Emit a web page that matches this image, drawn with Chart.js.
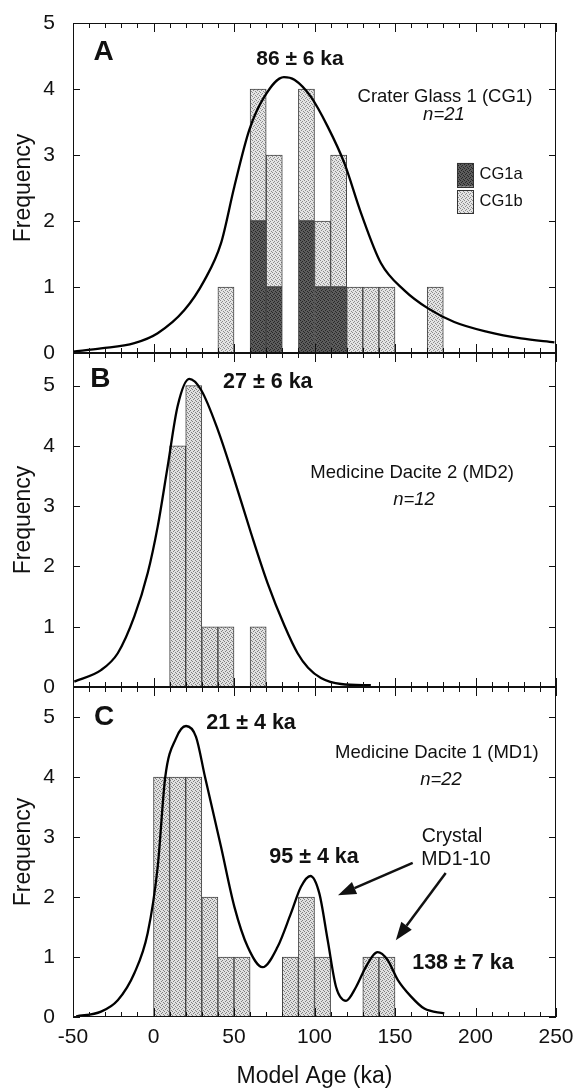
<!DOCTYPE html>
<html>
<head>
<meta charset="utf-8">
<script src="https://cdn.jsdelivr.net/npm/chart.js@4.4.0/dist/chart.umd.min.js"></script>
<style>
  body { margin: 0; background: #fff; }
  #wrap { position: relative; width: 582px; height: 1088px; overflow: hidden; }
  canvas { position: absolute; left: 0; }
</style>
</head>
<body>
<div id="wrap">
  <canvas id="panel-a" width="582" height="377" style="top:0px"></canvas>
  <canvas id="panel-b" width="582" height="382" style="top:329px"></canvas>
  <canvas id="panel-c" width="582" height="425" style="top:663px"></canvas>
</div>
<script>
const FONT = "'Liberation Sans', Arial, Helvetica, sans-serif";
const binWidth = 10;
const xTickLabels = [-50, 0, 50, 100, 150, 200, 250];

// panel A - Crater Glass 1 (bin left edges, ka)
const binsA = [40, 60, 70, 90, 100, 110, 120, 130, 140, 170];
const cg1a  = [0, 2, 1, 2, 1, 1, 0, 0, 0, 0];
const cg1b  = [1, 2, 2, 2, 1, 2, 1, 1, 1, 1];
const curveAx = [-50, -32.6, -11.9, 2.6, 19.2, 31.6, 41.9, 50.2, 59.5, 68.8, 81, 87.5, 97.8, 108.2, 118.5, 128.9, 141.3, 155.8, 170.3, 186.8, 207.5, 228.3, 249];
const curveAy = [0.02, 0.07, 0.15, 0.30, 0.65, 1.10, 1.66, 2.52, 3.38, 3.88, 4.18, 4.14, 3.88, 3.43, 2.88, 2.12, 1.36, 0.95, 0.68, 0.47, 0.32, 0.22, 0.16];

// panel B - Medicine Dacite 2
const binsB = [10, 20, 30, 40, 60];
const md2   = [4, 5, 1, 1, 1];
const curveBx = [-49.2, -32.6, -22.2, -11.9, -3.6, 2.6, 8.8, 15.0, 22.2, 29.5, 39.9, 50.2, 60.6, 70.9, 81.3, 89.5, 96, 104, 116.5, 135];
const curveBy = [0.09, 0.28, 0.56, 1.17, 1.89, 2.66, 3.66, 4.66, 5.11, 4.93, 4.27, 3.44, 2.55, 1.72, 1.02, 0.56, 0.32, 0.15, 0.05, 0.03];

// panel C - Medicine Dacite 1
const binsC = [0, 10, 20, 30, 40, 50, 80, 90, 100, 130, 140];
const md1   = [4, 4, 4, 2, 1, 1, 1, 2, 1, 1, 1];
const curveCx = [-48, -32.6, -22.2, -11.9, -3.6, 2.6, 7.3, 13.9, 20.2, 26.4, 32, 41.9, 50.2, 58.5, 67.8, 77.1, 85.4, 91.6, 97.4, 103, 108.2, 113.4, 119.6, 125.8, 132, 139.2, 145.4, 151.7, 160, 168.2, 180.6];
const curveCy = [0.01, 0.09, 0.28, 0.73, 1.40, 2.5, 4.0, 4.64, 4.85, 4.67, 4.0, 2.84, 1.84, 1.17, 0.83, 1.17, 1.73, 2.17, 2.35, 2.06, 1.28, 0.50, 0.27, 0.50, 0.84, 1.08, 0.95, 0.62, 0.34, 0.14, 0.06];

function stipple(canvas, base, dot) {
  const tile = document.createElement('canvas');
  tile.width = 4; tile.height = 4;
  const g = tile.getContext('2d');
  g.fillStyle = base; g.fillRect(0, 0, 4, 4);
  g.fillStyle = dot;
  [[0, 0], [2, 1], [1, 2], [3, 3]].forEach(([px, py]) => g.fillRect(px, py, 1, 1));
  return canvas.getContext('2d').createPattern(tile, 'repeat');
}

function barData(bins, counts) {
  return bins.map((b, i) => ({ x: b + binWidth / 2, y: counts[i] }));
}
function curveData(xs, ys) {
  return xs.map((v, i) => ({ x: v, y: ys[i] }));
}

const panelDecor = {
  id: 'panelDecor',
  afterDraw(chart, args, opts) {
    const { ctx, chartArea: a, scales: { x, y } } = chart;
    const seg = (x1, y1, x2, y2) => { ctx.beginPath(); ctx.moveTo(x1, y1); ctx.lineTo(x2, y2); ctx.stroke(); };
    ctx.save();
    ctx.strokeStyle = '#111';
    ctx.lineWidth = 1;
    ctx.strokeRect(a.left + 0.5, a.top + 0.5, a.width - 1, a.height - 1);
    for (let v = -50; v <= 250; v += 10) {
      const px = Math.round(x.getPixelForValue(v)) + 0.5;
      const len = v % 50 === 0 ? 9 : 5;
      seg(px, a.top, px, a.top + len);
      seg(px, a.bottom, px, a.bottom - len);
    }
    y.ticks.forEach(t => {
      const py = Math.round(y.getPixelForValue(t.value)) + 0.5;
      seg(a.left, py, a.left + 7, py);
      seg(a.right, py, a.right - 7, py);
    });

    (opts.boxes || []).forEach(b => {
      const x1 = x.getPixelForValue(b.x1), x2 = x.getPixelForValue(b.x2);
      const y1 = y.getPixelForValue(b.y1), y2 = y.getPixelForValue(b.y2);
      ctx.fillStyle = b.fill;
      ctx.fillRect(x1, y1, x2 - x1, y2 - y1);
      ctx.strokeStyle = '#333';
      ctx.strokeRect(Math.round(x1) + 0.5, Math.round(y1) + 0.5, Math.round(x2 - x1), Math.round(y2 - y1));
    });

    ctx.fillStyle = '#111';
    ctx.textBaseline = 'middle';
    (opts.texts || []).forEach(t => {
      ctx.font = t.font + ' ' + FONT;
      ctx.textAlign = t.align || 'center';
      ctx.fillText(t.text, x.getPixelForValue(t.x), y.getPixelForValue(t.y));
    });

    ctx.strokeStyle = '#111';
    ctx.lineWidth = 2.5;
    (opts.arrows || []).forEach(r => {
      const x1 = x.getPixelForValue(r.x1), y1 = y.getPixelForValue(r.y1);
      const x2 = x.getPixelForValue(r.x2), y2 = y.getPixelForValue(r.y2);
      const ang = Math.atan2(y2 - y1, x2 - x1);
      const hl = 18, hw = 6.5;
      const bx = x2 - hl * Math.cos(ang), by = y2 - hl * Math.sin(ang);
      seg(x1, y1, bx, by);
      ctx.beginPath();
      ctx.moveTo(x2, y2);
      ctx.lineTo(bx + hw * Math.sin(ang), by - hw * Math.cos(ang));
      ctx.lineTo(bx - hw * Math.sin(ang), by + hw * Math.cos(ang));
      ctx.closePath();
      ctx.fill();
    });
    ctx.restore();
  }
};

function makePanel(id, datasets, yMax, pad, showX, decor) {
  const xScale = {
    type: 'linear', min: -50, max: 250, stacked: true, offset: false,
    display: showX,
    grid: { display: false },
    border: { display: false },
    afterBuildTicks: s => { s.ticks = xTickLabels.map(v => ({ value: v })); },
    ticks: { color: '#111', padding: 0, font: { family: FONT, size: 21 } },
    title: { display: true, text: 'Model Age (ka)', color: '#111', padding: 0,
             font: { family: FONT, size: 23, lineHeight: 1 } },
    afterFit: s => { if (showX) s.height = 71; }
  };
  return new Chart(document.getElementById(id), {
    type: 'bar',
    data: { datasets },
    options: {
      responsive: false,
      animation: false,
      layout: { padding: { left: 0, right: 26, top: pad[0], bottom: pad[1] } },
      plugins: { legend: { display: false }, tooltip: { enabled: false }, panelDecor: decor },
      datasets: { bar: { categoryPercentage: 1, barPercentage: 1 } },
      scales: {
        x: xScale,
        y: {
          min: 0, max: yMax, stacked: true,
          grid: { display: false },
          border: { display: false },
          afterBuildTicks: s => { s.ticks = s.ticks.filter(t => Number.isInteger(t.value)); },
          ticks: { stepSize: 1, color: '#111', padding: 10, font: { family: FONT, size: 21 } },
          title: { display: true, text: 'Frequency', color: '#111', padding: { top: 10, bottom: 0 },
                   font: { family: FONT, size: 23 } },
          afterFit: s => { s.width = 73; }
        }
      }
    },
    plugins: [panelDecor]
  });
}

const cA = document.getElementById('panel-a');
const cB = document.getElementById('panel-b');
const cC = document.getElementById('panel-c');
const lightA = stipple(cA, '#e4e4e4', '#8c8c8c');
const darkA = stipple(cA, '#5c5c5c', '#262626');
const lightB = stipple(cB, '#e0e0e0', '#808080');
const lightC = stipple(cC, '#e0e0e0', '#808080');

const barStyle = { type: 'bar', borderColor: '#444', borderWidth: 1, borderSkipped: false, order: 1 };
const lineStyle = { type: 'line', borderColor: '#000', borderWidth: 2.3, pointRadius: 0,
                    cubicInterpolationMode: 'monotone', order: 0 };

makePanel('panel-a', [
  { ...barStyle, label: 'CG1a', data: barData(binsA, cg1a), backgroundColor: darkA },
  { ...barStyle, label: 'CG1b', data: barData(binsA, cg1b), backgroundColor: lightA },
  { ...lineStyle, label: 'CG1 curve', data: curveData(curveAx, curveAy) }
], 5, [23, 24], false, {
  texts: [
    { x: -31, y: 4.56, text: 'A', font: 'bold 28px' },
    { x: 91, y: 4.45, text: '86 ± 6 ka', font: 'bold 21px' },
    { x: 181, y: 3.88, text: 'Crater Glass 1 (CG1)', font: '18.5px' },
    { x: 180.4, y: 3.61, text: 'n=21', font: 'italic 18.5px' },
    { x: 202.5, y: 2.70, text: 'CG1a', font: '16.5px', align: 'left' },
    { x: 202.5, y: 2.29, text: 'CG1b', font: '16.5px', align: 'left' }
  ],
  boxes: [
    { x1: 188.5, x2: 198.5, y1: 2.88, y2: 2.52, fill: darkA },
    { x1: 188.5, x2: 198.5, y1: 2.47, y2: 2.12, fill: lightA }
  ]
});

makePanel('panel-b', [
  { ...barStyle, label: 'MD2', data: barData(binsB, md2), backgroundColor: lightB },
  { ...lineStyle, label: 'MD2 curve', data: curveData(curveBx, curveBy) }
], 5.54, [24, 24], false, {
  texts: [
    { x: -33, y: 5.10, text: 'B', font: 'bold 28px' },
    { x: 71, y: 5.05, text: '27 ± 6 ka', font: 'bold 21.5px' },
    { x: 160.6, y: 3.55, text: 'Medicine Dacite 2 (MD2)', font: '18.5px' },
    { x: 161.8, y: 3.11, text: 'n=12', font: 'italic 18.5px' }
  ]
});

makePanel('panel-c', [
  { ...barStyle, label: 'MD1', data: barData(binsC, md1), backgroundColor: lightC },
  { ...lineStyle, label: 'MD1 curve', data: curveData(curveCx, curveCy) }
], 5.5, [24, 0], true, {
  texts: [
    { x: -30.7, y: 5.0, text: 'C', font: 'bold 28px' },
    { x: 60.6, y: 4.9, text: '21 ± 4 ka', font: 'bold 21.5px' },
    { x: 176, y: 4.4, text: 'Medicine Dacite 1 (MD1)', font: '18.5px' },
    { x: 178.6, y: 3.95, text: 'n=22', font: 'italic 18.5px' },
    { x: 185.4, y: 3.0, text: 'Crystal', font: '19.5px' },
    { x: 187.9, y: 2.62, text: 'MD1-10', font: '19.5px' },
    { x: 99.7, y: 2.67, text: '95 ± 4 ka', font: 'bold 21.5px' },
    { x: 192.2, y: 0.9, text: '138 ± 7 ka', font: 'bold 21.5px' }
  ],
  arrows: [
    { x1: 161, y1: 2.57, x2: 114.6, y2: 2.03 },
    { x1: 181.5, y1: 2.4, x2: 150.5, y2: 1.28 }
  ]
});
</script>
</body>
</html>
